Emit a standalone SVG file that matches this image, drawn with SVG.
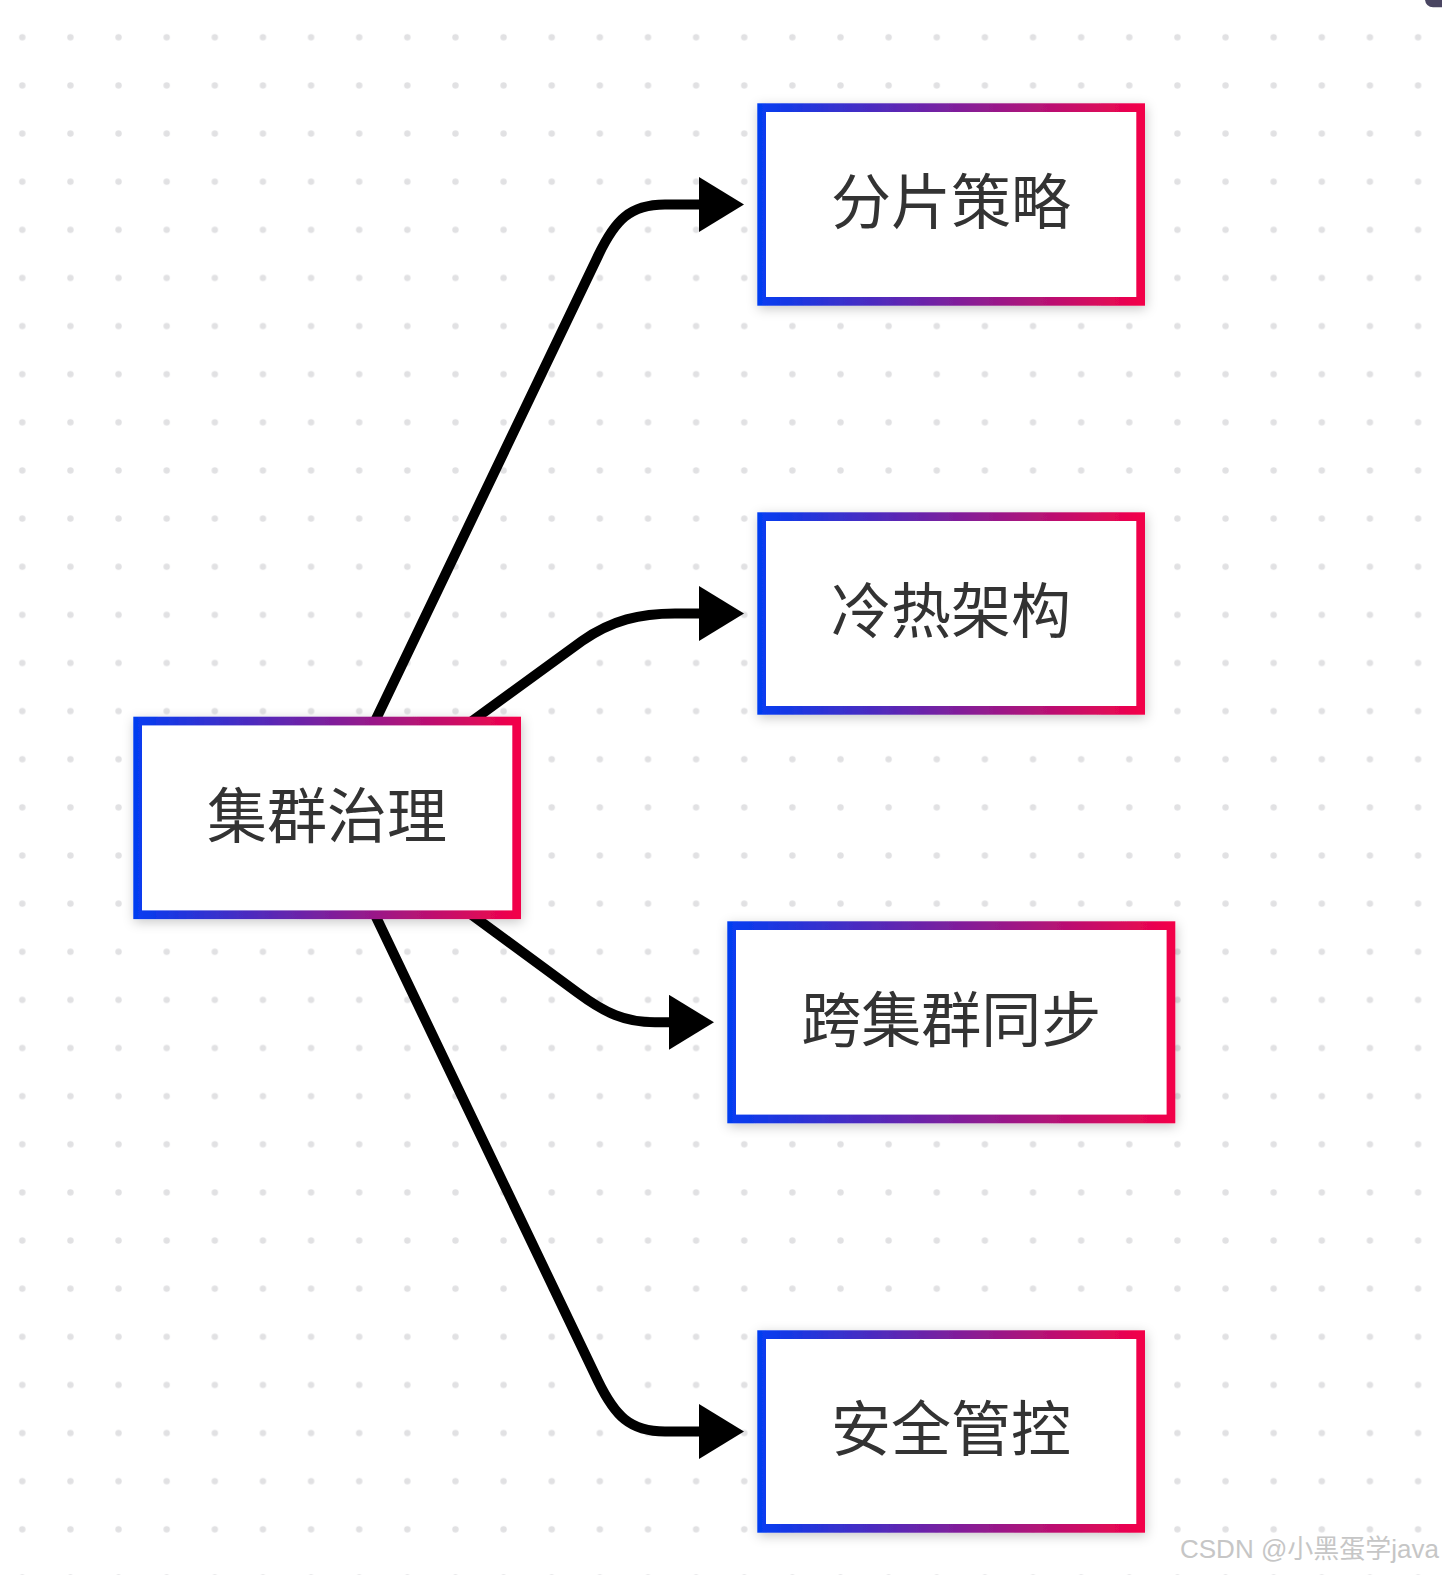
<svg xmlns="http://www.w3.org/2000/svg" width="1442" height="1575" viewBox="0 0 1442 1575">
  <defs>
    <pattern id="dots" patternUnits="userSpaceOnUse" x="-1.77" y="13.23" width="48.13" height="48.13">
      <circle cx="24.07" cy="24.07" r="3.2" fill="#e1e1e3"/>
    </pattern>
    <linearGradient id="border" x1="0" y1="0" x2="1" y2="0">
      <stop offset="0" stop-color="#063cf0"/>
      <stop offset="1" stop-color="#f2034a"/>
    </linearGradient>
    <filter id="shadow" x="-20%" y="-30%" width="140%" height="160%">
      <feDropShadow dx="1" dy="3" stdDeviation="6" flood-color="#000" flood-opacity="0.22"/>
    </filter>
    <marker id="arrow" markerUnits="userSpaceOnUse" viewBox="0 0 45 55" markerWidth="45" markerHeight="55" refX="1" refY="27.5" orient="auto">
      <path d="M0,0 L45,27.5 L0,55 Z" fill="#000"/>
    </marker>
    <style>
      .box { fill: #ffffff; stroke: url(#border); stroke-width: 8.7; filter: url(#shadow); }
      .label { font-family: "Noto Sans CJK SC", "Noto Sans", sans-serif; font-size: 60px; fill: #333333; text-anchor: middle; dominant-baseline: central; }
      .edge { fill: none; stroke: #000; stroke-width: 10; marker-end: url(#arrow); }
      .wm { font-family: "Liberation Sans", "Noto Sans CJK SC", sans-serif; font-size: 26px; fill: #c6c6c6; text-anchor: end; }
    </style>
  </defs>

  <rect x="0" y="0" width="1442" height="1575" fill="#ffffff"/>
  <rect x="0" y="0" width="1442" height="1575" fill="url(#dots)"/>
  <rect x="1425" y="-20" width="40" height="27.3" rx="8" fill="#4a4662"/>

  <g id="connectors">
    <path class="edge" d="M366,740 L598,256 C615,220 630,204.5 665,204.5 L700,204.5"/>
    <path class="edge" d="M446,740 L582,641 C612,620 640,613.5 675,613.5 L700,613.5"/>
    <path class="edge" d="M446,896 L578,993 C605,1013 625,1022.3 655,1022.3 L670,1022.3"/>
    <path class="edge" d="M366,896 L598,1381 C615,1416 630,1431.5 665,1431.5 L700,1431.5"/>
  </g>

  <g id="node-center">
    <rect class="box" x="137.65" y="721.05" width="379" height="193.7"/>
    <text class="label" x="327" y="811">集群治理</text>
  </g>
  <g id="node-shard">
    <rect class="box" x="761.65" y="107.65" width="379" height="193.7"/>
    <text class="label" x="951" y="197.5">分片策略</text>
  </g>
  <g id="node-hotcold">
    <rect class="box" x="761.65" y="516.65" width="379" height="193.7"/>
    <text class="label" x="951" y="606.5">冷热架构</text>
  </g>
  <g id="node-sync">
    <rect class="box" x="731.65" y="925.65" width="439.3" height="193.3"/>
    <text class="label" x="951.3" y="1015.5">跨集群同步</text>
  </g>
  <g id="node-security">
    <rect class="box" x="761.65" y="1334.65" width="379" height="193.7"/>
    <text class="label" x="951" y="1424.5">安全管控</text>
  </g>

  <text class="wm" x="1439" y="1558">CSDN @小黑蛋学java</text>
</svg>
